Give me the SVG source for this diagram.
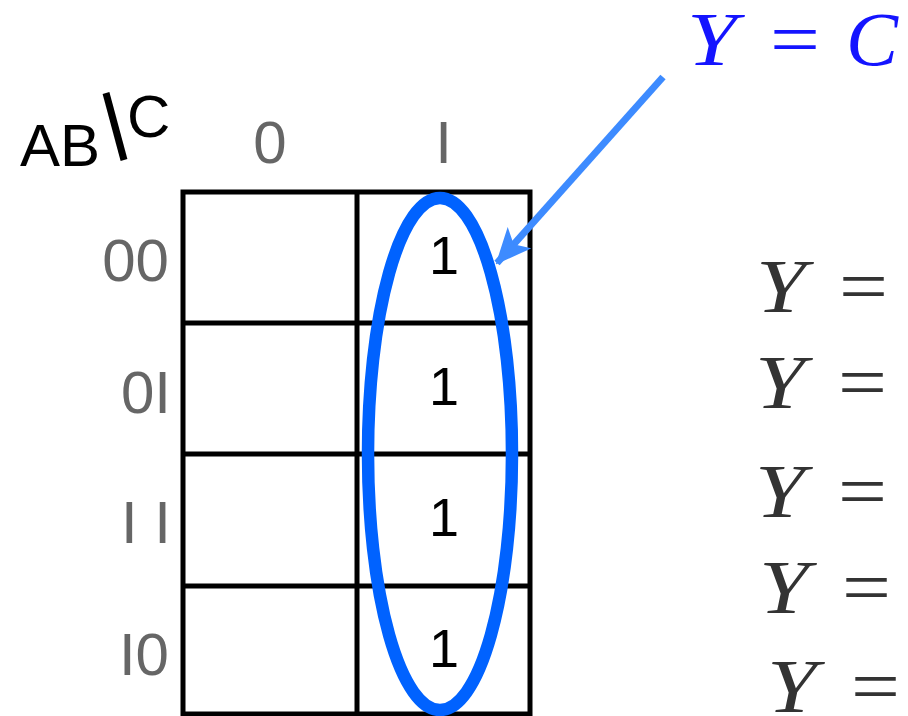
<svg xmlns="http://www.w3.org/2000/svg" width="908" height="716" viewBox="0 0 908 716">
<style>
.grid{fill:none;stroke:#000;stroke-width:5}
.lbl{font-family:"Liberation Sans",sans-serif;font-size:60px;fill:#666}
.hdr{font-family:"Liberation Sans",sans-serif;font-size:60px;fill:#000}
.one{font-family:"Liberation Sans",sans-serif;font-size:54px;fill:#000;text-anchor:middle}
.math{font-family:"Liberation Serif","DejaVu Serif",serif;font-size:77px;fill:#333}
.it{font-style:italic}
.blue{fill:#1414FF}
</style>
<defs>
<marker id="ah" markerUnits="userSpaceOnUse" markerWidth="36" markerHeight="32" refX="34" refY="16" orient="auto">
<path d="M0,0 L36,16 L0,32 L9,16 Z" fill="#3D8BFF"/>
</marker>
</defs>
<rect width="908" height="716" fill="#fff"/>
<g id="header">
<text class="hdr" x="20" y="166">AB</text>
<line x1="106" y1="93" x2="124" y2="160" stroke="#000" stroke-width="7"/>
<text class="hdr" x="127" y="137">C</text>
<text class="lbl" x="270" y="163" text-anchor="middle">0</text>
<text class="lbl" x="443.5" y="163" text-anchor="middle">I</text>
</g>
<g id="rowlabels">
<text class="lbl" x="169" y="281" text-anchor="end">00</text>
<text class="lbl" x="171" y="413" text-anchor="end">0I</text>
<text class="lbl" x="171" y="543" text-anchor="end">I I</text>
<text class="lbl" x="169" y="675" text-anchor="end">I0</text>
</g>
<g id="kmap">
<rect class="grid" x="183" y="192" width="347" height="522"/>
<line class="grid" x1="357" y1="192" x2="357" y2="716"/>
<line class="grid" x1="183" y1="323" x2="530" y2="323"/>
<line class="grid" x1="183" y1="454" x2="530" y2="454"/>
<line class="grid" x1="183" y1="586" x2="530" y2="586"/>
<text class="one" x="444" y="274">1</text>
<text class="one" x="444" y="405">1</text>
<text class="one" x="444" y="536">1</text>
<text class="one" x="444" y="667">1</text>
</g>
<g id="group">
<ellipse cx="440" cy="454" rx="72" ry="256" fill="none" stroke="#0062FF" stroke-width="12.5"/>
</g>
<g id="connectors">
<line x1="663" y1="77" x2="497" y2="263" stroke="#3D8BFF" stroke-width="7" marker-end="url(#ah)"/>
</g>
<g id="result">
<text class="math blue it" x="687" y="65" font-size="72" textLength="50" lengthAdjust="spacingAndGlyphs">Y</text>
<text class="math blue" x="770" y="65" font-size="72" textLength="50" lengthAdjust="spacingAndGlyphs">=</text>
<text class="math blue it" x="846" y="65" font-size="72" textLength="52" lengthAdjust="spacingAndGlyphs">C</text>
</g>
<g id="equations">
<text class="math it" x="756" y="312" textLength="50" lengthAdjust="spacingAndGlyphs">Y</text>
<text class="math" x="839" y="312" textLength="49" lengthAdjust="spacingAndGlyphs">=</text>
<text class="math it" x="755" y="408" textLength="50" lengthAdjust="spacingAndGlyphs">Y</text>
<text class="math" x="838" y="408" textLength="49" lengthAdjust="spacingAndGlyphs">=</text>
<text class="math it" x="755" y="517" textLength="50" lengthAdjust="spacingAndGlyphs">Y</text>
<text class="math" x="838" y="517" textLength="49" lengthAdjust="spacingAndGlyphs">=</text>
<text class="math it" x="759" y="613" textLength="50" lengthAdjust="spacingAndGlyphs">Y</text>
<text class="math" x="842" y="613" textLength="49" lengthAdjust="spacingAndGlyphs">=</text>
<text class="math it" x="767" y="712" textLength="50" lengthAdjust="spacingAndGlyphs">Y</text>
<text class="math" x="851" y="712" textLength="49" lengthAdjust="spacingAndGlyphs">=</text>
</g>
</svg>
